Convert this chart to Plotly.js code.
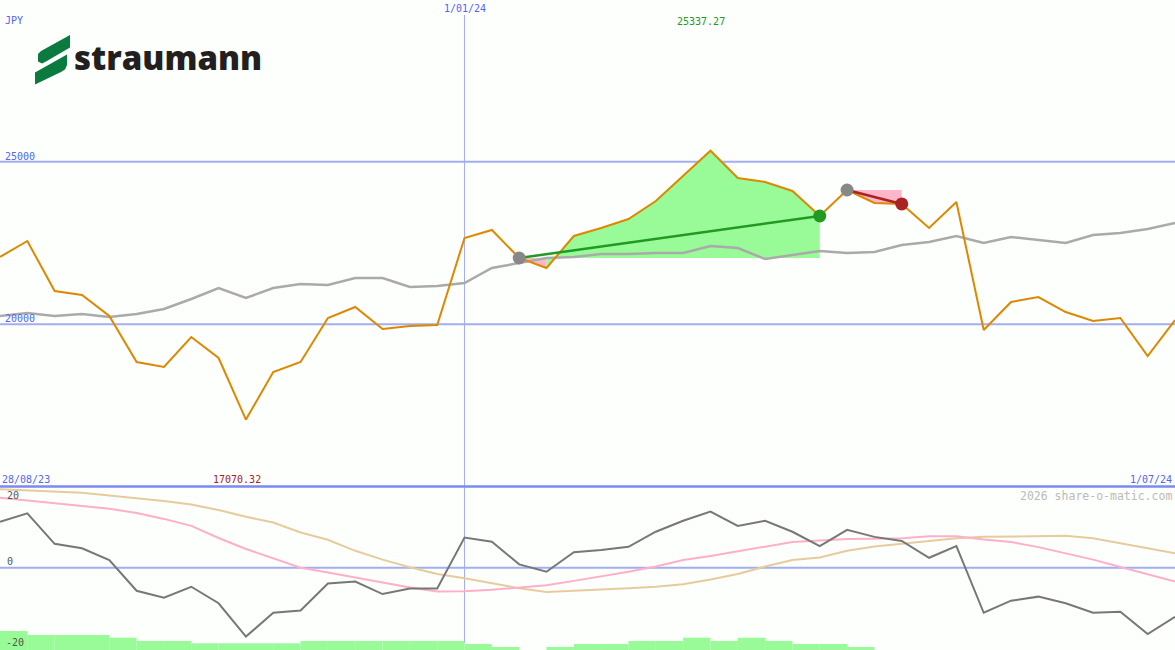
<!DOCTYPE html>
<html>
<head>
<meta charset="utf-8">
<script src="https://cdn.plot.ly/plotly-3.0.1.min.js"></script>
<style>html,body{margin:0;padding:0;background:#fcfffc;}#chart{width:1175px;height:650px;}</style>
</head>
<body>
<div id="chart"></div>
<script>
// ---- data (weekly points, 28/08/23 .. 1/07/24) ----
const weekIndex = Array.from({length: 44}, (_, i) => i);
const price = [22070,22561,21024,20901,20255,18841,18687,19609,18964,17070.32,
               18533,18841,20194,20532,19855,19948,19978,22654,22900,22039,
               21731,22715,22961,23238,23791,24560,25337.27,24499,24376,24099,
               23330,24130,23730,23700,22961,23761,19825,20686,20839,20378,
               20101,20194,19025,20132];
const movingAvg = [20255,20347,20255,20317,20224,20317,20470,20778,21116,20809,
                   21116,21239,21208,21424,21424,21147,21178,21270,21731,21885,
                   22039,22069,22162,22162,22192,22192,22408,22346,22008,22131,
                   22254,22192,22223,22438,22531,22715,22500,22685,22592,22500,
                   22746,22807,22930,23115];
const oscillator = [12.5,14.8,6.5,5.3,2.1,-6.3,-8.2,-5.2,-9.7,-18.8,
                    -12.3,-11.7,-4.3,-3.8,-7.2,-5.7,-5.7,8.2,7.1,0.9,
                    -1.1,4.2,4.8,5.7,9.8,12.8,15.3,11.4,12.8,9.8,
                    5.9,10.3,8.4,7.3,2.7,5.9,-12.3,-9.0,-7.9,-9.7,
                    -12.3,-12.0,-18.1,-13.4];
const oscSignal = [19.1,18.4,17.7,17.0,16.1,14.9,13.3,11.4,8.1,5.1,
                   2.5,0.0,-1.3,-2.7,-4.2,-5.4,-6.5,-6.4,-6.0,-5.4,
                   -4.8,-3.6,-2.4,-1.1,0.3,2.1,3.2,4.4,5.7,7.0,
                   7.4,7.8,7.9,8.0,8.6,8.6,7.7,7.0,5.6,3.9,
                   2.2,0.2,-1.8,-3.8];
const oscSlow = [21.4,21.1,20.8,20.4,19.7,19.0,18.2,17.2,15.7,13.9,
                 12.3,9.6,7.6,4.6,2.2,0.1,-1.7,-2.9,-4.3,-5.6,
                 -6.6,-6.3,-6.1,-5.6,-5.2,-4.5,-3.2,-1.7,0.3,2.1,
                 2.8,4.6,5.8,6.5,7.3,8.0,8.4,8.5,8.6,8.7,
                 8.0,6.6,5.4,3.9];
const volume = [19,15,15,15,12.3,9,9,6.7,6.7,6.7,
                6.7,9,9,9,9,9,9,6,3,0,
                3,6,6,9,9,12.3,9,12.3,9,6,
                6,3,0,0,0,0,0,0,0,0,
                0,0,0,0];
const yearStartIndex = 17;           // 1/01/24
const trades = [ {entry: 19, exit: 30}, {entry: 31, exit: 33} ];
const priceGrid = [20000, 25000];
const labels = {currency: 'JPY', start: '28/08/23', end: '1/07/24', mid: '1/01/24',
                hi: '25337.27', lo: '17070.32', credit: '2026 share-o-matic.com'};

// ---- helpers ----
const W = 1175, H = 650;
const PX = x => x / W, PY = y => 1 - y / H;
const split = PY(487);
const range = (a, b) => Array.from({length: b - a + 1}, (_, i) => a + i);

const traces = [];
// volume bars (bottom panel)
traces.push({type: 'bar', x: weekIndex, y: volume, xaxis: 'x', yaxis: 'y3',
  width: 1, offset: 0, marker: {color: '#98fb98', line: {width: 0}}, hoverinfo: 'skip'});

// trade fills
trades.forEach(t => {
  const base = price[t.entry];
  const win = price[t.exit] >= base;
  if (win) {
    const pxs = [t.entry, t.entry + 1, t.entry + 1];
    const pys = [base, price[t.entry + 1], base];
    traces.push({x: pxs, y: pys, mode: 'lines', fill: 'toself', fillcolor: '#ffb6c8',
      line: {width: 0}, hoverinfo: 'skip', yaxis: 'y'});
    const idx = range(t.entry + 1, t.exit);
    traces.push({x: idx.concat([t.exit, t.entry + 1]), y: idx.map(i => price[i]).concat([base, base]),
      mode: 'lines', fill: 'toself', fillcolor: '#98fb98', line: {width: 0}, hoverinfo: 'skip', yaxis: 'y'});
  } else {
    const idx = range(t.entry, t.exit);
    traces.push({x: idx.concat([t.exit]), y: idx.map(i => price[i]).concat([base]),
      mode: 'lines', fill: 'toself', fillcolor: '#ffb6c8', line: {width: 0}, hoverinfo: 'skip', yaxis: 'y'});
  }
});

// main lines
traces.push({x: weekIndex, y: movingAvg, mode: 'lines', line: {color: '#aaaaaa', width: 2.5}, yaxis: 'y'});
traces.push({x: weekIndex, y: price, mode: 'lines', line: {color: '#dd8800', width: 2}, yaxis: 'y'});

// trade lines and markers
trades.forEach(t => {
  const win = price[t.exit] >= price[t.entry];
  const col = win ? '#229922' : '#aa2222';
  traces.push({x: [t.entry, t.exit], y: [price[t.entry], price[t.exit]], mode: 'lines',
    line: {color: col, width: 2.5}, yaxis: 'y'});
  traces.push({x: [t.entry], y: [price[t.entry]], mode: 'markers',
    marker: {color: '#888888', size: 13}, yaxis: 'y'});
  traces.push({x: [t.exit], y: [price[t.exit]], mode: 'markers',
    marker: {color: col, size: 13}, yaxis: 'y'});
});

// oscillator panel
traces.push({x: weekIndex, y: oscSlow, mode: 'lines', line: {color: '#e6cc9c', width: 2}, yaxis: 'y2'});
traces.push({x: weekIndex, y: oscSignal, mode: 'lines', line: {color: '#ffb0c8', width: 2}, yaxis: 'y2'});
traces.push({x: weekIndex, y: oscillator, mode: 'lines', line: {color: '#777777', width: 2}, yaxis: 'y2'});

// ---- shapes ----
const gridCol = '#a3aef2';
const shapes = [];
priceGrid.forEach(v => shapes.push({type: 'line', xref: 'paper', yref: 'y', x0: 0, x1: 1, y0: v, y1: v,
  line: {color: gridCol, width: 2}, layer: 'below'}));
shapes.push({type: 'line', xref: 'paper', yref: 'y2', x0: 0, x1: 1, y0: 0, y1: 0,
  line: {color: gridCol, width: 2}, layer: 'below'});
shapes.push({type: 'line', xref: 'x', yref: 'paper', x0: yearStartIndex, x1: yearStartIndex,
  y0: PY(643), y1: PY(15), line: {color: gridCol, width: 1}, layer: 'below'});
shapes.push({type: 'line', xref: 'paper', yref: 'paper', x0: 0, x1: 1, y0: PY(486.5), y1: PY(486.5),
  line: {color: '#7b8af0', width: 2.5}});

// logo (green mark)
const poly = pts => 'M ' + pts.map(p => PX(p[0]) + ',' + PY(p[1])).join(' L ') + ' Z';
const logoGreen = '#0b7a3e';
shapes.push({type: 'path', xref: 'paper', yref: 'paper', fillcolor: logoGreen, line: {width: 0},
  path: poly([[70,35],[70,47.5],[46,61.5],[42,63.5],[38,61.5],[38,54],[41,51]])});
shapes.push({type: 'path', xref: 'paper', yref: 'paper', fillcolor: logoGreen, line: {width: 0},
  path: poly([[67,54.5],[67,65],[65,69.5],[61,72],[35,84.5],[35,72.5]])});

// ---- annotations ----
const mono = 'DejaVu Sans Mono';
const ann = (text, x, y, xanchor, color, size) => ({text, x: PX(x), y: PY(y), xref: 'paper', yref: 'paper',
  xanchor, yanchor: 'middle', showarrow: false, font: {family: mono, size: size || 10, color}});
const blue = '#5464f4';
const annotations = [
  ann(labels.currency, 3, 20, 'left', blue),
  ann(labels.mid, 465, 9, 'center', blue),
  ann(labels.hi, 701, 21.5, 'center', '#229922'),
  ann('25000', 3, 156, 'left', blue),
  ann('20000', 3, 318.5, 'left', blue),
  ann(labels.start, 0, 479, 'left', blue),
  ann(labels.lo, 237, 479, 'center', '#aa2222'),
  ann(labels.end, 1174, 479, 'right', blue),
  ann(labels.credit, 1174, 496, 'right', '#bbbbbb', 11.5),
  ann('20', 5, 495.5, 'left', '#555555'),
  ann('0', 5, 561.5, 'left', '#555555'),
  ann('-20', 4, 642, 'left', '#555555'),
  {text: 'straumann', x: PX(72), y: PY(57), xref: 'paper', yref: 'paper', xanchor: 'left', yanchor: 'middle',
   showarrow: false, font: {family: 'Open Sans', size: 33, weight: 800, color: '#231f20'}}
];

const axisOff = {showgrid: false, zeroline: false, showticklabels: false, showline: false, ticks: '', fixedrange: true};
const layout = {
  width: W, height: H,
  margin: {l: 0, r: 0, t: 0, b: 0, pad: 0},
  paper_bgcolor: '#fcfffc', plot_bgcolor: '#fcfffc',
  showlegend: false,
  xaxis: Object.assign({range: [0, 43], domain: [0, 1]}, axisOff),
  yaxis: Object.assign({range: [14997, 29972], domain: [split, 1]}, axisOff),
  yaxis2: Object.assign({range: [-22.45, 22.0], domain: [0, split]}, axisOff),
  yaxis3: Object.assign({range: [0, 163], overlaying: 'y2'}, axisOff),
  shapes, annotations
};
Plotly.newPlot('chart', traces, layout, {displayModeBar: false, staticPlot: true});
</script>
</body>
</html>
